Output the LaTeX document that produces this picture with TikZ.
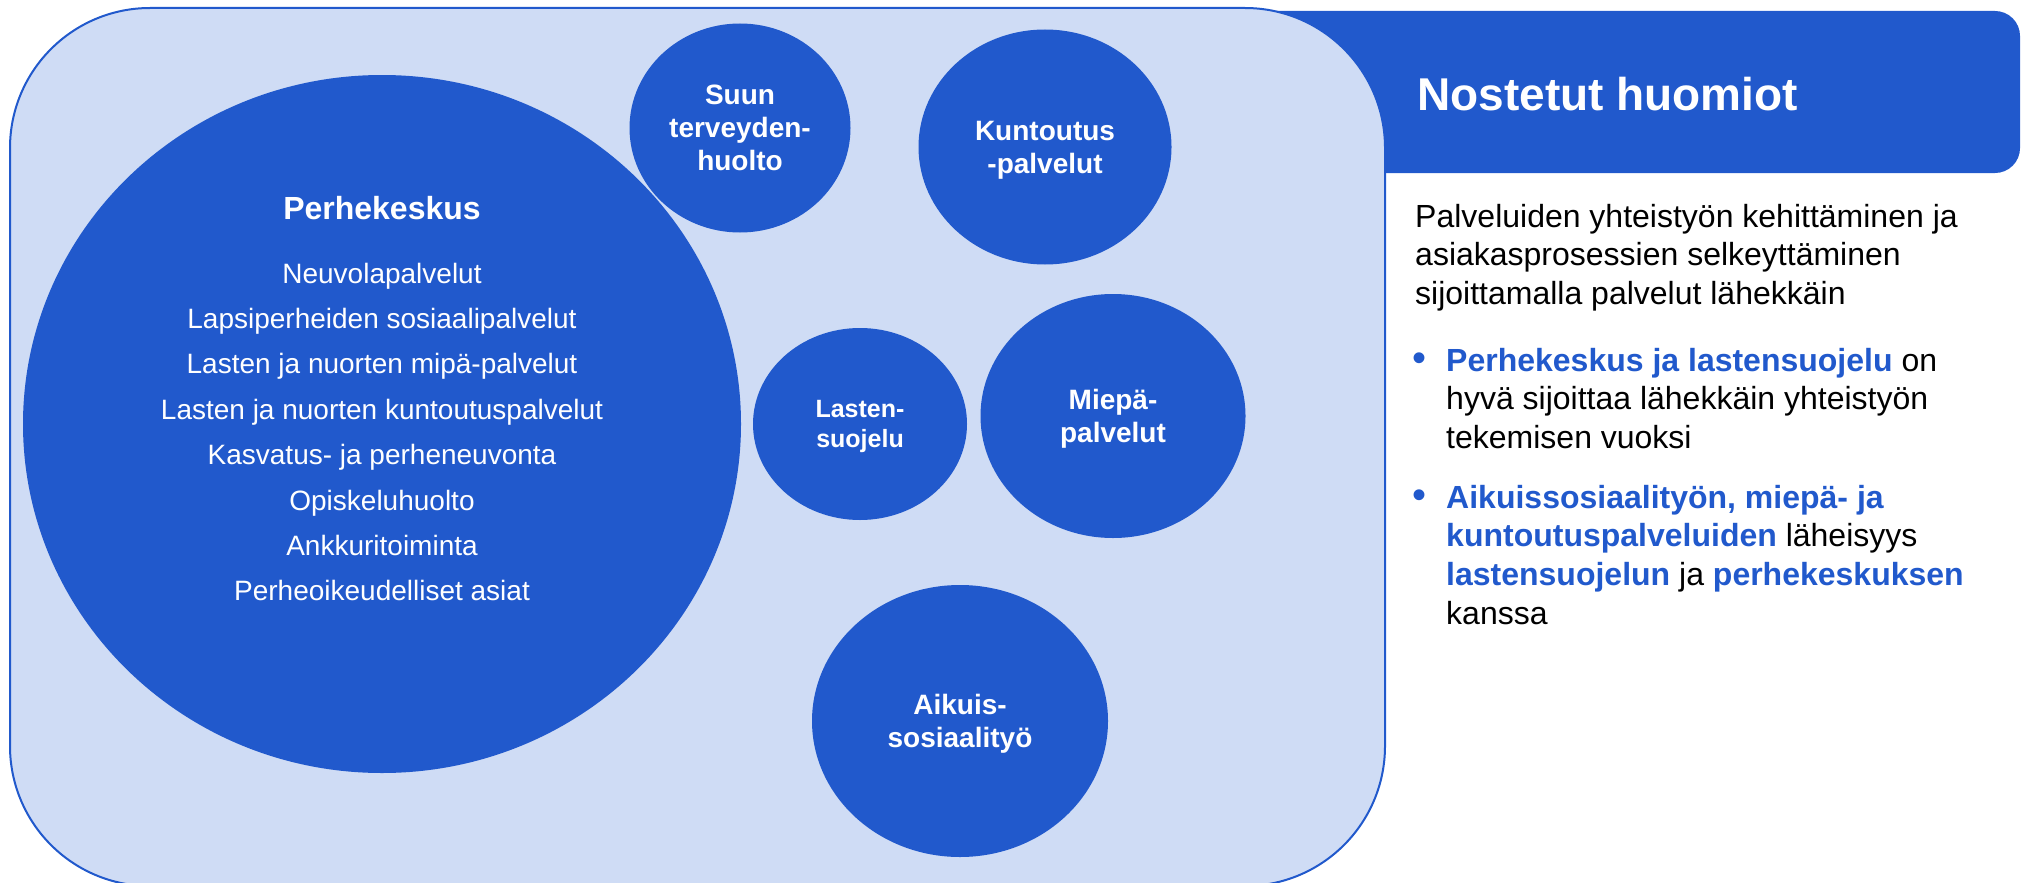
\documentclass[tikz,border=0pt]{standalone}
\usepackage{fontspec}
\setmainfont{Liberation Sans}
\usetikzlibrary{shapes.geometric,positioning}

\definecolor{deepblue}{RGB}{33,89,204}
\definecolor{paleblue}{RGB}{207,220,245}

\newcommand{\hilite}[1]{{\bfseries\color{deepblue}#1}}

\tikzset{
  bubble/.style={ellipse, fill=deepblue, inner sep=0pt, text=white, align=center,
    text depth=0pt, font=\fontsize{28}{33}\selectfont\bfseries},
  listtext/.style={text=white, anchor=base, inner sep=0pt, font=\fontsize{28}{34}\selectfont},
  notetext/.style={anchor=base west, align=left, inner sep=0pt, font=\fontsize{32}{38.7}\selectfont},
}

\begin{document}
\begin{tikzpicture}[x=1pt,y=-1pt]
\useasboundingbox (0,0) rectangle (2031,883);
\clip (0,0) rectangle (2031,883);
\fill[deepblue, rounded corners=25pt] (1200,11) rectangle (2020,173);
\node[anchor=base west, inner sep=0pt, text=white, font=\fontsize{46}{50}\selectfont\bfseries] (otsikko) at (1417,110) {Nostetut huomiot};
\draw[line width=2pt, draw=deepblue, fill=paleblue, rounded corners=140pt] (10,8) rectangle (1385,886);

\node[bubble, minimum width=718pt, minimum height=698pt] (perhe) at (382,424) {};
\node[bubble, minimum width=221pt, minimum height=209pt] (suun) at (740,128) {Suun\\terveyden-\\huolto};
\node[bubble, minimum width=253pt, minimum height=235pt] (kuntoutus) at (1045,147) {Kuntoutus\\-palvelut};
\node[bubble, minimum width=214pt, minimum height=192pt, font=\fontsize{25}{30}\selectfont\bfseries] (lasten) at (860,424) {Lasten-\\suojelu};
\node[bubble, minimum width=265pt, minimum height=244pt] (miepa) at (1113,416) {Miepä-\\palvelut};
\node[bubble, minimum width=296pt, minimum height=272pt] (aikuis) at (960,721) {Aikuis-\\sosiaalityö};

\node[anchor=base, inner sep=0pt, text=white, font=\fontsize{32}{36}\selectfont\bfseries] (perhetitle) at (382,219) {Perhekeskus};
\foreach \palvelu [count=\i] in {Neuvolapalvelut, Lapsiperheiden sosiaalipalvelut,
    Lasten ja nuorten mipä-palvelut, Lasten ja nuorten kuntoutuspalvelut,
    Kasvatus- ja perheneuvonta, Opiskeluhuolto, Ankkuritoiminta, Perheoikeudelliset asiat}
  \node[listtext] (palvelu\i) at (382,{283.3+45.34*(\i-1)}) {\palvelu};

\node[notetext] (johdanto) at (1415,304.4) {Palveluiden yhteistyön kehittäminen ja\\asiakasprosessien selkeyttäminen\\sijoittamalla palvelut lähekkäin};
\node[notetext, text=deepblue] (piste1) at (1412,371) {\fontsize{40}{40}\selectfont •};
\node[notetext] (kohta1) at (1446,448.4) {\hilite{Perhekeskus ja lastensuojelu} on\\hyvä sijoittaa lähekkäin yhteistyön\\tekemisen vuoksi};
\node[notetext, text=deepblue] (piste2) at (1412,508) {\fontsize{40}{40}\selectfont •};
\node[notetext] (kohta2) at (1446,624.1) {\hilite{Aikuissosiaalityön, miepä- ja}\\\hilite{kuntoutuspalveluiden} läheisyys\\\hilite{lastensuojelun} ja \hilite{perhekeskuksen}\\kanssa};
\end{tikzpicture}
\end{document}
